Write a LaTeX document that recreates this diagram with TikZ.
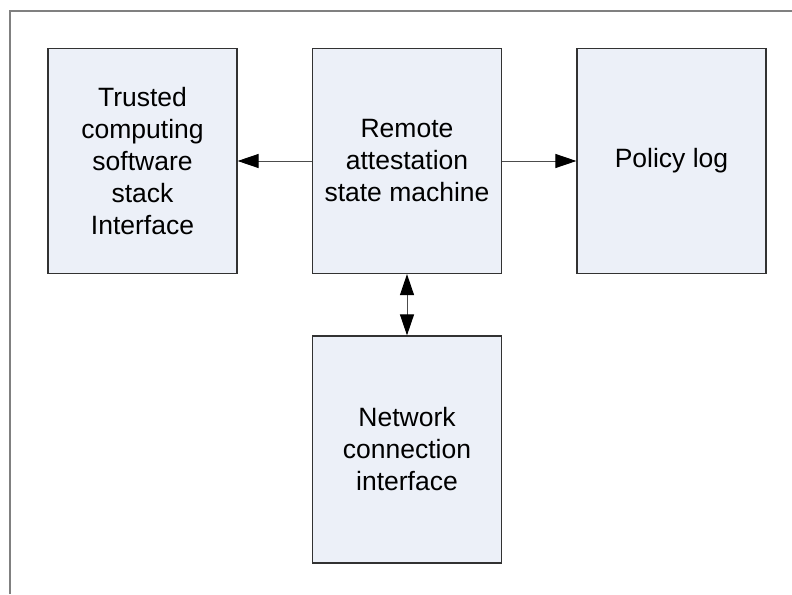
\documentclass[tikz,border=0pt]{standalone}
\usepackage{fontspec}
\setmainfont{Liberation Sans}
\usetikzlibrary{arrows.meta}
\definecolor{boxfill}{RGB}{236,240,248}
\definecolor{boxline}{RGB}{50,50,50}
\definecolor{framegray}{RGB}{128,128,128}
\begin{document}
\begin{tikzpicture}[x=1pt,y=-1pt,
  blockbox/.style={draw=boxline,line width=1.2pt,fill=boxfill,minimum width=189pt,minimum height=225pt,inner sep=0pt,align=center,font=\fontsize{26.5}{32}\selectfont},
  conn/.style={draw=black!70,line width=1pt,-{Triangle[length=21pt,width=14pt,black]}},
  dconn/.style={draw=black!70,line width=1pt,{Triangle[length=21pt,width=14pt,black]}-{Triangle[length=21pt,width=14pt,black]}}]
\useasboundingbox (0,0) rectangle (792,594);
\draw[framegray,line width=2pt] (10,594) -- (10,11) -- (792,11);
\node[blockbox] (tcs) at (142.5,161) {Trusted\\computing\\software\\stack\\Interface};
\node[blockbox] (ras) at (407,161) {Remote\\attestation\\state machine};
\node[blockbox] (pol) at (671.5,161) {Policy log};
\node[blockbox,minimum height=227pt] (net) at (407,449.5) {Network\\connection\\interface};
\draw[conn] (ras.west) -- (tcs.east);
\draw[conn] (ras.east) -- (pol.west);
\draw[dconn] (ras.south) -- (net.north);
\end{tikzpicture}
\end{document}
